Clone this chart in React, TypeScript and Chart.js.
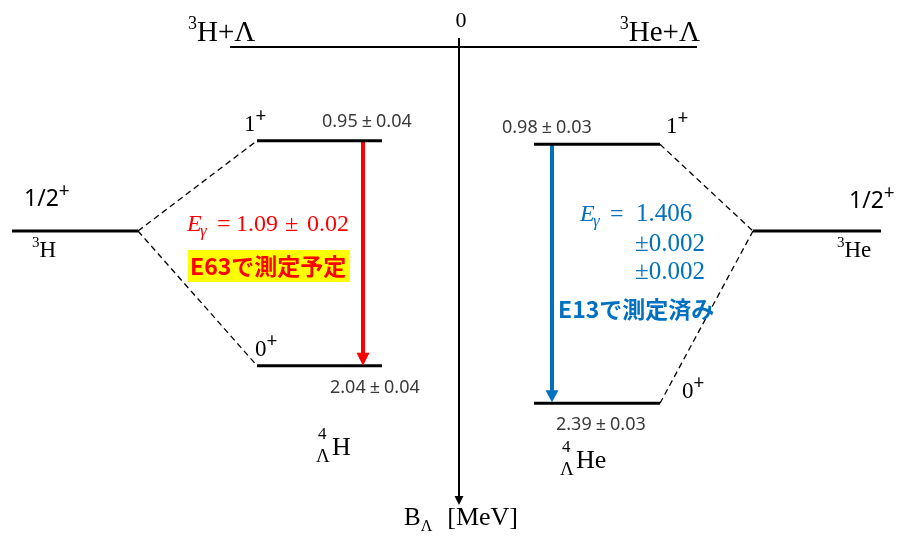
import React, { useEffect, useRef } from "react";
import { Chart, registerables } from "chart.js";

Chart.register(...registerables);

// ---------------- data ----------------
const thresholdLabels = ["H+Λ", "He+Λ"]; // with ³ prefix
const coreNuclei = ["H", "He"]; // ³H, ³He
const hypernuclei = ["H", "He"]; // ⁴ΛH, ⁴ΛHe
const coreSpin = "1/2";
const levelSpins = ["1", "0"]; // parity +
const bindingH = [0.95, 2.04]; // MeV, ⁴ΛH 1+ / 0+
const errorH = [0.04, 0.04];
const bindingHe = [0.98, 2.39]; // MeV, ⁴ΛHe 1+ / 0+
const errorHe = [0.03, 0.03];
const gammaH = "1.09";
const gammaHErrors = ["0.02"];
const gammaHe = "1.406";
const gammaHeErrors = ["0.002", "0.002"];
const statusH = "E63で測定予定";
const statusHe = "E13で測定済み";
const zeroLabel = "0";
const axisTitle = ["B", "Λ", "[MeV]"];

// ---------------- styles / layout ----------------
const SERIF = '"Liberation Serif", "DejaVu Serif", serif';
const SANS = '"Noto Sans", "DejaVu Sans", sans-serif';
const JP = '"Noto Sans CJK JP", "Noto Sans", sans-serif';
const RED = "#ff0000";
const BLUE = "#0070c0";
const GREY = "#3a3a3a";

type Seg = { t: string; font: string; dx?: number; dy?: number; color?: string };

function drawSegs(ctx: CanvasRenderingContext2D, x: number, y: number, segs: Seg[], align = "left", color = "#000") {
  let total = 0;
  const widths: number[] = [];
  for (const s of segs) {
    ctx.font = s.font;
    const w = ctx.measureText(s.t).width;
    widths.push(w);
    total += (s.dx || 0) + w;
  }
  let cx = align === "center" ? x - total / 2 : align === "right" ? x - total : x;
  segs.forEach((s, i) => {
    cx += s.dx || 0;
    ctx.font = s.font;
    ctx.fillStyle = s.color || color;
    ctx.fillText(s.t, cx, y + (s.dy || 0));
    cx += widths[i];
  });
}

function arrowHead(ctx: CanvasRenderingContext2D, x: number, tip: number, h: number, hw: number, color: string) {
  ctx.beginPath();
  ctx.moveTo(x, tip);
  ctx.lineTo(x - hw, tip - h);
  ctx.lineTo(x + hw, tip - h);
  ctx.closePath();
  ctx.fillStyle = color;
  ctx.fill();
}

const fmt = (v: number) => v.toFixed(2);

const diagramPlugin = {
  id: "diagram",
  afterDatasetsDraw(chart: any) {
    const ctx: CanvasRenderingContext2D = chart.ctx;
    const X = (v: number) => chart.scales.x.getPixelForValue(v);
    const S = (v: number) => chart.scales.yS.getPixelForValue(v);
    const H = (v: number) => chart.scales.yH.getPixelForValue(v);
    const HE = (v: number) => chart.scales.yHe.getPixelForValue(v);
    ctx.save();
    ctx.textBaseline = "alphabetic";

    // dashed correlation lines
    ctx.setLineDash([6, 4]);
    ctx.lineWidth = 1.3;
    ctx.strokeStyle = "#000";
    ctx.beginPath();
    ctx.moveTo(X(138), S(231));
    ctx.lineTo(X(257), H(bindingH[0]));
    ctx.moveTo(X(138), S(231));
    ctx.lineTo(X(257), H(bindingH[1]));
    ctx.moveTo(X(660), HE(bindingHe[0]));
    ctx.lineTo(X(753), S(231));
    ctx.moveTo(X(660), HE(bindingHe[1]));
    ctx.lineTo(X(753), S(231));
    ctx.stroke();
    ctx.setLineDash([]);

    // arrow heads
    arrowHead(ctx, X(363), H(bindingH[1]), 13, 6.5, RED);
    arrowHead(ctx, X(552), HE(bindingHe[1]) - 1, 12, 6.5, BLUE);
    arrowHead(ctx, X(459), S(505), 9, 4.5, "#000");

    // top labels
    drawSegs(ctx, X(461), S(27), [{ t: zeroLabel, font: `22px ${SERIF}` }], "center");
    drawSegs(ctx, X(188), S(41), [
      { t: "3", font: `18px ${SERIF}`, dy: -12 },
      { t: thresholdLabels[0], font: `29px ${SERIF}` },
    ]);
    drawSegs(ctx, X(700), S(41), [
      { t: "3", font: `18px ${SERIF}`, dy: -12 },
      { t: thresholdLabels[1], font: `29px ${SERIF}` },
    ], "right");

    // core nuclei
    const spinSegs = (): Seg[] => [
      { t: coreSpin, font: `23px ${SANS}` },
      { t: "+", font: `19px ${SANS}`, dy: -9 },
    ];
    drawSegs(ctx, X(24), S(206), spinSegs());
    drawSegs(ctx, X(849), S(208), spinSegs());
    drawSegs(ctx, X(32), S(257), [
      { t: "3", font: `15px ${SERIF}`, dy: -10 },
      { t: coreNuclei[0], font: `23px ${SERIF}` },
    ]);
    drawSegs(ctx, X(837), S(257), [
      { t: "3", font: `15px ${SERIF}`, dy: -10 },
      { t: coreNuclei[1], font: `23px ${SERIF}` },
    ]);

    // spins of hypernuclear levels
    const lvl = (s: string): Seg[] => [
      { t: s, font: `23px ${SERIF}` },
      { t: "+", font: `19px ${SANS}`, dy: -9 },
    ];
    drawSegs(ctx, X(244), H(bindingH[0]) - 10, lvl(levelSpins[0]));
    drawSegs(ctx, X(255), H(bindingH[1]) - 10, lvl(levelSpins[1]));
    drawSegs(ctx, X(666), HE(bindingHe[0]) - 11, lvl(levelSpins[0]));
    drawSegs(ctx, X(682), HE(bindingHe[1]) - 5, lvl(levelSpins[1]));

    // energy values
    const ev = (v: number, e: number): Seg[] => [
      { t: fmt(v), font: `18px ${SANS}` },
      { t: "±", font: `18px ${SANS}`, dx: 4 },
      { t: fmt(e), font: `18px ${SANS}`, dx: 4 },
    ];
    drawSegs(ctx, X(322), H(bindingH[0]) - 14, ev(bindingH[0], errorH[0]), "left", GREY);
    drawSegs(ctx, X(330), H(bindingH[1]) + 27, ev(bindingH[1], errorH[1]), "left", GREY);
    drawSegs(ctx, X(502), HE(bindingHe[0]) - 11, ev(bindingHe[0], errorHe[0]), "left", GREY);
    drawSegs(ctx, X(556), HE(bindingHe[1]) + 27, ev(bindingHe[1], errorHe[1]), "left", GREY);

    // gamma energy
    const eg = (x: number, y: number, color: string) => {
      drawSegs(ctx, x, y, [{ t: "E", font: `italic 24px ${SERIF}` }], "left", color);
      drawSegs(ctx, x + 13, y + 5, [{ t: "γ", font: `italic 17px ${SERIF}` }], "left", color);
      drawSegs(ctx, x + 30, y, [{ t: "=", font: `24px ${SERIF}` }], "left", color);
    };
    eg(187, S(231), RED);
    drawSegs(ctx, X(236), S(231), [{ t: gammaH, font: `24px ${SERIF}` }], "left", RED);
    drawSegs(ctx, X(285), S(231), [{ t: "±", font: `24px ${SERIF}` }], "left", RED);
    drawSegs(ctx, X(307), S(231), [{ t: gammaHErrors[0], font: `24px ${SERIF}` }], "left", RED);

    ctx.fillStyle = "#ffff00";
    ctx.fillRect(X(188), S(250), X(350) - X(188), S(282) - S(250));
    drawSegs(ctx, X(190), S(275), [{ t: statusH, font: `bold 23px ${JP}` }], "left", RED);

    eg(580, S(221), BLUE);
    drawSegs(ctx, X(636), S(221), [{ t: gammaHe, font: `25px ${SERIF}` }], "left", BLUE);
    gammaHeErrors.forEach((e, i) => {
      drawSegs(ctx, X(635), S(251 + 28 * i), [{ t: "±" + e, font: `25px ${SERIF}` }], "left", BLUE);
    });
    drawSegs(ctx, X(558), S(318), [{ t: statusHe, font: `bold 23px ${JP}` }], "left", BLUE);

    // hypernucleus names
    const hyp = (x: number, yb: number, name: string) => {
      drawSegs(ctx, X(x + 2), S(yb - 16), [{ t: "4", font: `17px ${SERIF}` }]);
      drawSegs(ctx, X(x), S(yb + 7), [{ t: "Λ", font: `19px ${SERIF}` }]);
      drawSegs(ctx, X(x + 16), S(yb), [{ t: name, font: `26px ${SERIF}` }]);
    };
    hyp(316, 455, hypernuclei[0]);
    hyp(560, 468, hypernuclei[1]);

    // axis title
    drawSegs(ctx, X(404), S(525), [
      { t: axisTitle[0], font: `25px ${SERIF}` },
      { t: axisTitle[1], font: `16px ${SERIF}`, dy: 6 },
      { t: axisTitle[2], font: `26px ${SERIF}`, dx: 15 },
    ]);

    ctx.restore();
  },
};

function seg(x0: number, x1: number, y: number, axis: string, color: string, width: number) {
  return {
    type: "line" as const,
    data: [{ x: x0, y }, { x: x1, y }],
    yAxisID: axis,
    borderColor: color,
    borderWidth: width,
    pointRadius: 0,
    fill: false,
    tension: 0,
  };
}

function vseg(x: number, y0: number, y1: number, axis: string, color: string, width: number) {
  return {
    type: "line" as const,
    data: [{ x, y: y0 }, { x, y: y1 }],
    yAxisID: axis,
    borderColor: color,
    borderWidth: width,
    pointRadius: 0,
    fill: false,
    tension: 0,
  };
}

export default function App() {
  const ref = useRef<HTMLCanvasElement | null>(null);
  useEffect(() => {
    if (!ref.current) return;
    const datasets: any[] = [
      seg(230, 697, 47, "yS", "#000", 2), // threshold (B = 0)
      vseg(459, 38, 498, "yS", "#000", 2), // B axis
      seg(12, 138, 231, "yS", "#000", 3), // ³H
      seg(753, 881, 231, "yS", "#000", 3), // ³He
      ...bindingH.map((b) => seg(257, 382, b, "yH", "#000", 3)),
      ...bindingHe.map((b) => seg(534, 660, b, "yHe", "#000", 3)),
      vseg(363, bindingH[0], bindingH[1] - 0.03, "yH", RED, 4),
      vseg(552, bindingHe[0], bindingHe[1] - 0.03, "yHe", BLUE, 4),
    ];
    const hidden = { display: false, bounds: "data" as const };
    const chart = new Chart(ref.current, {
      type: "line",
      data: { datasets },
      options: {
        animation: false,
        responsive: false,
        events: [],
        layout: { padding: 0 },
        plugins: { legend: { display: false }, tooltip: { enabled: false } },
        elements: { line: { borderCapStyle: "butt" } },
        scales: {
          x: { ...hidden, type: "linear", min: 0, max: 898 },
          yS: { ...hidden, type: "linear", position: "left", reverse: true, min: 0, max: 541 },
          yH: { ...hidden, type: "linear", position: "left", reverse: true, min: 0.2684, max: 2.8893 },
          yHe: { ...hidden, type: "linear", position: "left", reverse: true, min: 0.1944, max: 3.1396 },
        },
      },
      plugins: [diagramPlugin],
    } as any);
    return () => chart.destroy();
  }, []);
  return (
    <div style={{ position: "fixed", left: 0, top: 0, width: 898, height: 541, background: "#fff" }}>
      <canvas ref={ref} width={898} height={541} style={{ display: "block" }} />
    </div>
  );
}
